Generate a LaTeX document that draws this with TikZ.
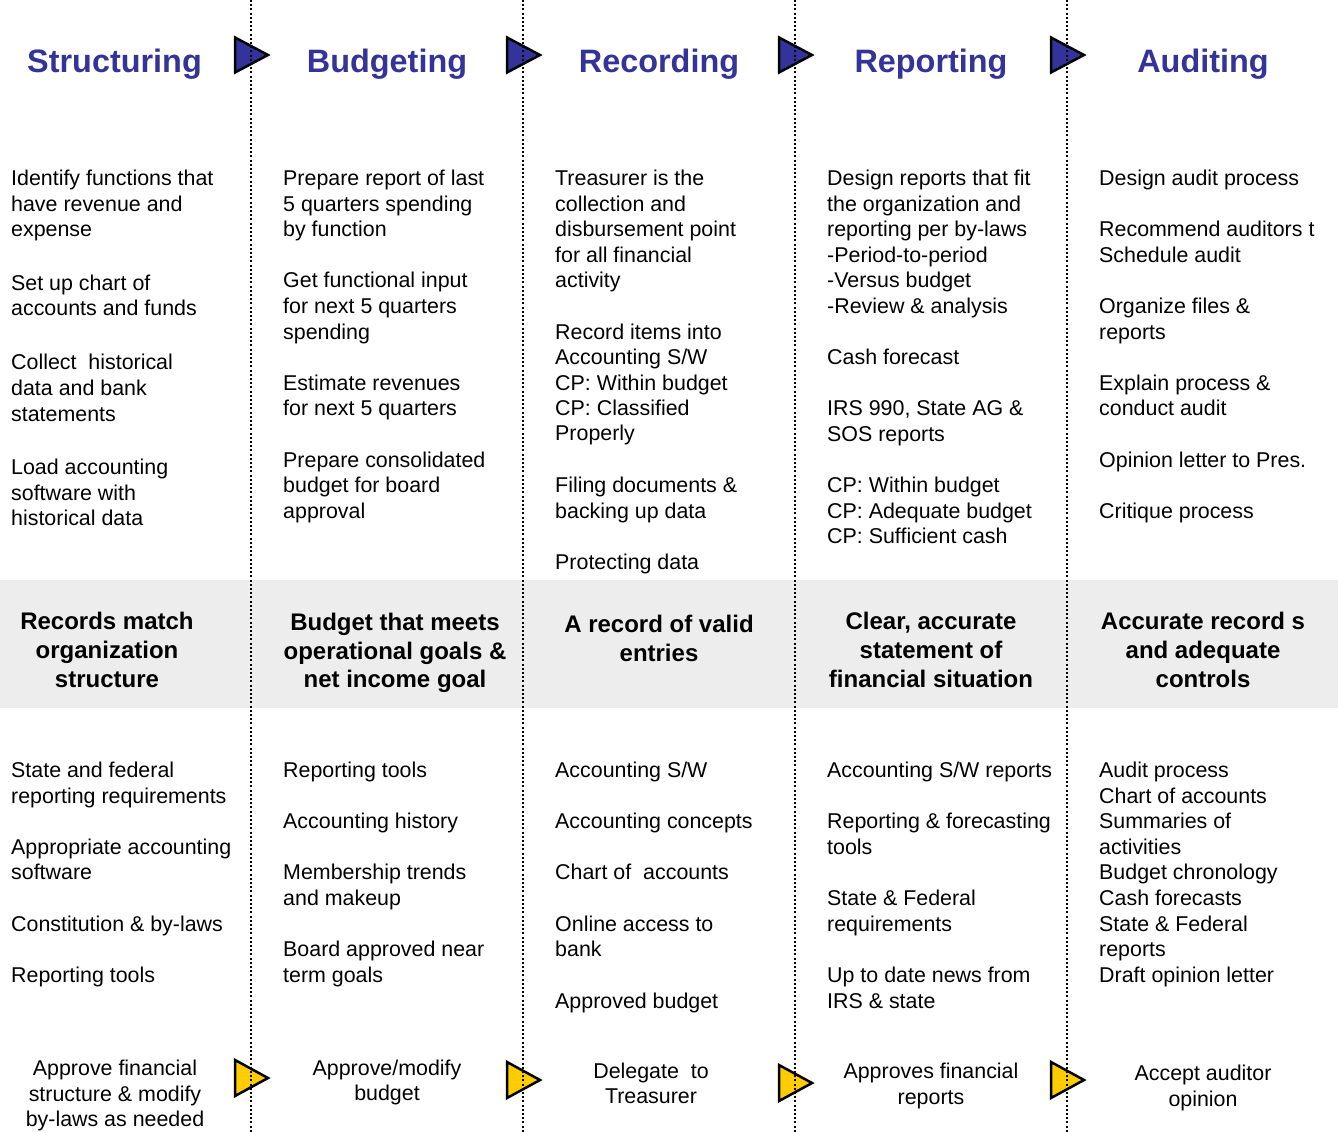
\documentclass[tikz,border=0pt]{standalone}
\usepackage{fontspec}
\setmainfont{Liberation Sans}
\definecolor{headblue}{HTML}{333399}
\definecolor{bandgray}{HTML}{EDEDED}
\definecolor{triyellow}{HTML}{FFCC00}
\tikzset{
  body/.style={font=\fontsize{21.4}{25.5}\selectfont, anchor=base west, inner sep=0pt},
  bodyc/.style={font=\fontsize{21.4}{25.5}\selectfont, anchor=base, inner sep=0pt},
  bandtext/.style={font=\fontsize{24}{29}\selectfont\bfseries, anchor=base, inner sep=0pt},
  headtext/.style={font=\fontsize{32.4}{38}\selectfont\bfseries, text=headblue, anchor=base, inner sep=0pt},
  sep/.style={line width=2pt, dash pattern=on 2pt off 2.2pt},
  triblue/.style={fill=headblue, draw=black, line width=2.5pt, line join=miter},
  triyel/.style={fill=triyellow, draw=black, line width=2.5pt, line join=miter}
}
\newcommand\leftlines[3]{%
  \foreach \yy/\txt [count=\i] in {#3} {\node[body] (#1\i) at (#2,\yy+7.5) {\txt};}}
\newcommand\centerlines[4]{%
  \foreach \yy/\txt [count=\i] in {#4} {\node[#3] (#1\i) at (#2,\yy) {\txt};}}
\begin{document}
\begin{tikzpicture}[x=1pt,y=-1pt]
\useasboundingbox (0,0) rectangle (1338,1132);
% band
\fill[bandgray] (0,580) rectangle (1338,708);
% triangles
\foreach \L/\ty [count=\k] in {251/1078,523/1080,795/1083,1067/1080}{
  \filldraw[triblue] (\L-16,37.5) -- (\L+17,55) -- (\L-16,72.5) -- cycle;
  \filldraw[triyel] (\L-16,\ty-18) -- (\L+17,\ty) -- (\L-16,\ty+18) -- cycle;
}
% separators
\foreach \L in {251,523,795,1067}{
  \draw[sep] (\L,0) -- (\L,1132);
}
% headings
\node[headtext] (h1) at (114.5,72) {Structuring};
\node[headtext] (h2) at (387,72) {Budgeting};
\node[headtext] (h3) at (659,72) {Recording};
\node[headtext] (h4) at (931,72) {Reporting};
\node[headtext] (h5) at (1203,72) {Auditing};
% top texts
\leftlines{ta}{11}{178/Identify functions that, 204/have revenue and, 229/expense,
  283/Set up chart of, 308/accounts and funds,
  362/Collect~ historical, 388/data and bank, 414/statements,
  467/Load accounting, 493/software with, 518/historical data}
\leftlines{tb}{283}{178/Prepare report of last, 204/5 quarters spending, 229/by function,
  280/Get functional input, 306/for next 5 quarters, 332/spending,
  383/Estimate revenues, 408/for next 5 quarters,
  460/Prepare consolidated, 485/budget for board, 511/approval}
\leftlines{tc}{555}{178/Treasurer is the, 204/collection and, 229/disbursement point, 255/for all financial, 280/activity,
  332/Record items into, 357/{Accounting S/W}, 383/CP: Within budget, 408/CP: Classified, 433/Properly,
  485/Filing documents \&, 511/backing up data,
  562/Protecting data}
\leftlines{td}{827}{178/Design reports that fit, 204/the organization and, 229/reporting per by-laws,
  255/-Period-to-period, 280/-Versus budget, 306/-Review \& analysis,
  357/Cash forecast,
  {408/IRS 990, State AG \&}, 434/SOS reports,
  485/CP: Within budget, 511/CP: Adequate budget, 536/CP: Sufficient cash}
\leftlines{te}{1099}{178/Design audit process,
  229/Recommend auditors t, 255/Schedule audit,
  306/Organize files \&, 332/reports,
  383/Explain process \&, 408/conduct audit,
  460/Opinion letter to Pres.,
  511/Critique process}
% band texts
\centerlines{ma}{107}{bandtext}{629.6/Records match, 658.6/organization, 687.6/structure}
\centerlines{mb}{395}{bandtext}{630.6/Budget that meets, 659.6/operational goals \&, 687.6/net income goal}
\centerlines{mc}{659}{bandtext}{632.6/A record of valid, 661.6/entries}
\centerlines{md}{931}{bandtext}{{629.6/Clear, accurate}, 658.6/statement of, 687.6/financial situation}
\centerlines{me}{1203}{bandtext}{629.6/Accurate record s, 658.6/and adequate, 687.6/controls}
% lower texts
\leftlines{ba}{11}{770/State and federal, 796/reporting requirements,
  847/Appropriate accounting, 872/software,
  924/Constitution \& by-laws,
  975/Reporting tools}
\leftlines{bb}{283}{770/Reporting tools,
  821/Accounting history,
  872/Membership trends, 898/and makeup,
  949/Board approved near, 975/term goals}
\leftlines{bc}{555}{770/{Accounting S/W},
  821/Accounting concepts,
  872/Chart of~ accounts,
  924/Online access to, 949/bank,
  1001/Approved budget}
\leftlines{bd}{827}{770/{Accounting S/W reports},
  821/Reporting \& forecasting, 847/tools,
  898/State \& Federal, 924/requirements,
  975/Up to date news from, 1001/IRS \& state}
\leftlines{be}{1099}{770/Audit process, 796/Chart of accounts, 821/Summaries of, 847/activities,
  872/Budget chronology, 898/Cash forecasts, 924/State \& Federal, 949/reports, 975/Draft opinion letter}
% bottom texts
\centerlines{fa}{115}{bodyc}{1075.5/Approve financial, 1101.5/structure \& modify, 1126.5/by-laws as needed}
\centerlines{fb}{387}{bodyc}{1075.5/{Approve/modify}, 1100.5/budget}
\centerlines{fc}{651}{bodyc}{1078.5/Delegate~ to, 1103.5/Treasurer}
\centerlines{fd}{931}{bodyc}{1078.5/Approves financial, 1104.5/reports}
\centerlines{fe}{1203}{bodyc}{1080.5/Accept auditor, 1106.5/opinion}
\end{tikzpicture}
\end{document}
